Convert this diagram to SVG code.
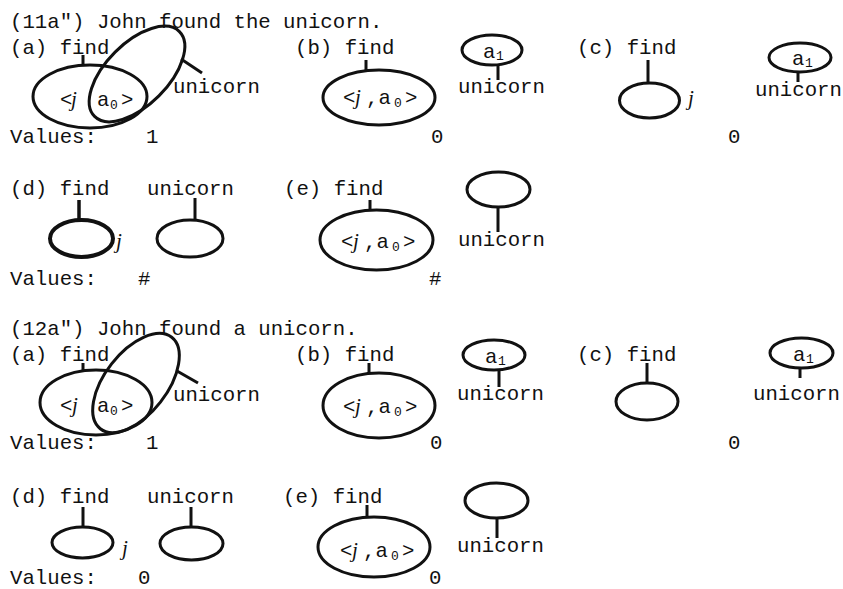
<svg xmlns="http://www.w3.org/2000/svg" width="843" height="589" viewBox="0 0 843 589">
<style>
.t{font-family:"Liberation Mono","Courier New","DejaVu Sans Mono",monospace;font-size:20.7px;fill:#111}
.j{font-family:"Liberation Serif","Times New Roman",serif;font-style:italic;font-size:21px}
.s{font-size:13px}
.e{fill:none;stroke:#111;stroke-width:3}
.ek{fill:none;stroke:#111;stroke-width:4}
.c{stroke:#111;stroke-width:3;fill:none}
</style>
<rect width="843" height="589" fill="#fff"/>

<g id="titles" class="t">
<text x="10" y="28">(11a") John found the unicorn.</text>
<text x="10" y="335">(12a") John found a unicorn.</text>
</g>

<!-- ===== (11a") ===== -->
<g id="n11a" class="t">
<text x="10" y="54">(a) find</text>
<ellipse class="e" cx="90" cy="96.5" rx="57" ry="31.5"/>
<ellipse class="e" cx="137" cy="74" rx="60" ry="31" transform="rotate(-45 137 74)"/>
<text x="173" y="93">unicorn</text>
<text y="106"><tspan x="60">&lt;</tspan><tspan class="j" x="71">j</tspan><tspan x="97">a</tspan><tspan class="s" x="110" dy="3">0</tspan><tspan x="121" dy="-3">&gt;</tspan></text>
<text x="10" y="143">Values:</text>
<text x="146" y="143">1</text>
</g>

<g id="n11b" class="t">
<text x="295" y="54">(b) find</text>
<ellipse class="e" cx="379" cy="97.5" rx="56" ry="27.5"/>
<text y="104"><tspan x="343">&lt;</tspan><tspan class="j" x="355">j</tspan><tspan x="366">,a</tspan><tspan class="s" x="394" dy="3">0</tspan><tspan x="405" dy="-3">&gt;</tspan></text>
<ellipse class="e" cx="492" cy="50" rx="30" ry="15"/>
<text y="58"><tspan x="483">a</tspan><tspan class="s" x="496" dy="2">1</tspan></text>
<text x="458" y="93">unicorn</text>
<text x="431" y="143">0</text>
</g>

<g id="n11c" class="t">
<text x="577" y="54">(c) find</text>
<ellipse class="e" cx="649.5" cy="100.5" rx="30" ry="17.5"/>
<text class="j" x="688" y="105">j</text>
<ellipse class="e" cx="800" cy="57.5" rx="31" ry="14.5"/>
<text y="65"><tspan x="792">a</tspan><tspan class="s" x="805" dy="2">1</tspan></text>
<text x="755" y="96">unicorn</text>
<text x="728" y="143">0</text>
</g>

<g id="n11d" class="t">
<text x="10" y="195">(d) find</text>
<text x="147" y="195">unicorn</text>
<ellipse class="ek" cx="81.5" cy="238.5" rx="31.5" ry="18.5"/>
<text class="j" x="116" y="248">j</text>
<ellipse class="e" cx="190" cy="238.5" rx="33" ry="18.5"/>
<text x="10" y="285">Values:</text>
<text x="138" y="285">#</text>
</g>

<g id="n11e" class="t">
<text x="284" y="195">(e) find</text>
<ellipse class="e" cx="376.5" cy="240" rx="56.5" ry="30"/>
<text y="248"><tspan x="341">&lt;</tspan><tspan class="j" x="353">j</tspan><tspan x="364">,a</tspan><tspan class="s" x="392" dy="3">0</tspan><tspan x="403" dy="-3">&gt;</tspan></text>
<ellipse class="e" cx="498.5" cy="189.5" rx="31.5" ry="17.5"/>
<text x="458" y="246">unicorn</text>
<text x="429" y="285">#</text>
</g>

<!-- ===== (12a") ===== -->
<g id="n12a" class="t">
<text x="10" y="361">(a) find</text>
<ellipse class="e" cx="96" cy="402.5" rx="56" ry="32.5"/>
<ellipse class="e" cx="136" cy="383" rx="58" ry="31" transform="rotate(-52 136 383)"/>
<text x="173" y="401">unicorn</text>
<text y="412"><tspan x="60">&lt;</tspan><tspan class="j" x="72">j</tspan><tspan x="97">a</tspan><tspan class="s" x="110" dy="3">0</tspan><tspan x="121" dy="-3">&gt;</tspan></text>
<text x="10" y="449">Values:</text>
<text x="146" y="449">1</text>
</g>

<g id="n12b" class="t">
<text x="295" y="361">(b) find</text>
<ellipse class="e" cx="379" cy="405.5" rx="56" ry="32.5"/>
<text y="413"><tspan x="343">&lt;</tspan><tspan class="j" x="355">j</tspan><tspan x="366">,a</tspan><tspan class="s" x="394" dy="3">0</tspan><tspan x="405" dy="-3">&gt;</tspan></text>
<ellipse class="e" cx="494" cy="355" rx="31" ry="15"/>
<text y="363"><tspan x="485">a</tspan><tspan class="s" x="498" dy="2">1</tspan></text>
<text x="457" y="400">unicorn</text>
<text x="430" y="449">0</text>
</g>

<g id="n12c" class="t">
<text x="577" y="361">(c) find</text>
<ellipse class="e" cx="647" cy="401.5" rx="31" ry="18.5"/>
<ellipse class="e" cx="801.5" cy="353" rx="31.5" ry="15"/>
<text y="361"><tspan x="793">a</tspan><tspan class="s" x="806" dy="2">1</tspan></text>
<text x="753" y="400">unicorn</text>
<text x="728" y="449">0</text>
</g>

<g id="n12d" class="t">
<text x="10" y="503">(d) find</text>
<text x="147" y="503">unicorn</text>
<ellipse class="e" cx="82.5" cy="542.5" rx="30.5" ry="15.5"/>
<text class="j" x="122" y="555">j</text>
<ellipse class="e" cx="191.5" cy="543.5" rx="31.5" ry="16.5"/>
<text x="10" y="584">Values:</text>
<text x="138" y="584">0</text>
</g>

<g id="n12e" class="t">
<text x="283" y="503">(e) find</text>
<ellipse class="e" cx="374" cy="547" rx="56" ry="30"/>
<text y="557"><tspan x="340">&lt;</tspan><tspan class="j" x="352">j</tspan><tspan x="363">,a</tspan><tspan class="s" x="391" dy="3">0</tspan><tspan x="402" dy="-3">&gt;</tspan></text>
<ellipse class="e" cx="496.5" cy="500.5" rx="31.5" ry="17.5"/>
<text x="457" y="552">unicorn</text>
<text x="429" y="584">0</text>
</g>

<g id="connectors" class="c">
<line x1="83" y1="55" x2="83" y2="65"/>
<line x1="181" y1="59" x2="202" y2="73"/>
<line x1="366" y1="60" x2="366" y2="70"/>
<line x1="498" y1="65" x2="498" y2="80"/>
<line x1="648" y1="60" x2="648" y2="83"/>
<line x1="798" y1="72" x2="798" y2="82"/>
<line x1="79" y1="200" x2="79" y2="220" stroke-width="3.5"/>
<line x1="195" y1="198" x2="195" y2="220"/>
<line x1="370" y1="200" x2="370" y2="210"/>
<line x1="498" y1="207" x2="498" y2="232"/>
<line x1="83" y1="363" x2="83" y2="371"/>
<line x1="177" y1="371" x2="198" y2="383"/>
<line x1="369" y1="363" x2="369" y2="373"/>
<line x1="499" y1="370" x2="499" y2="387"/>
<line x1="647" y1="363" x2="647" y2="383"/>
<line x1="800" y1="368" x2="800" y2="378"/>
<line x1="83" y1="507" x2="83" y2="527"/>
<line x1="191" y1="507" x2="191" y2="527"/>
<line x1="367" y1="505" x2="367" y2="517"/>
<line x1="497" y1="518" x2="497" y2="538"/>
</g>
</svg>
